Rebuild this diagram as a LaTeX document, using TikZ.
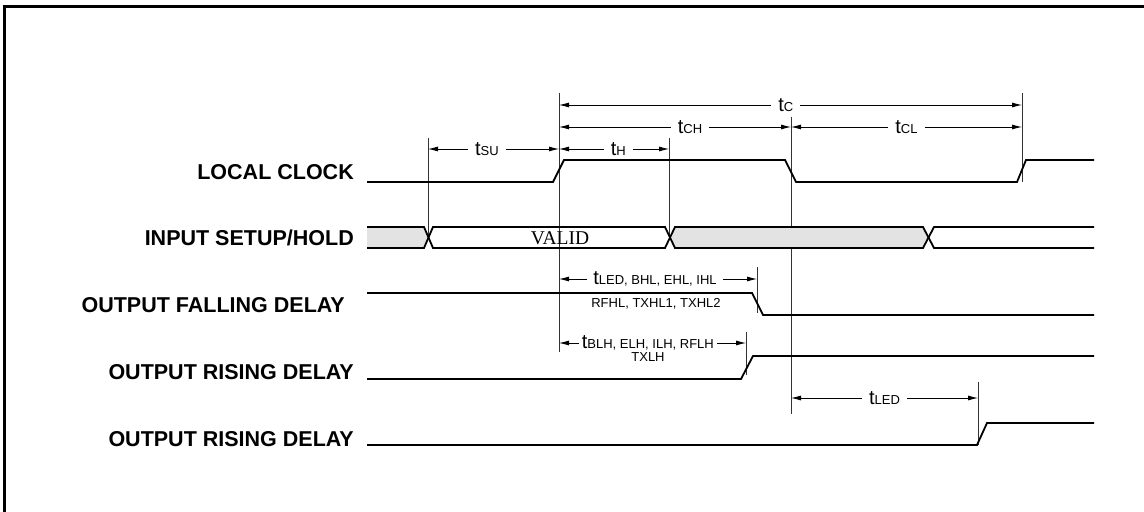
\documentclass[tikz,border=0pt]{standalone}
\usepackage{fontspec}
\setmainfont{Liberation Sans}
\newfontfamily\valfont{Liberation Serif}
\usetikzlibrary{arrows.meta}
\newcommand{\tsub}[2]{{\fontsize{20bp}{20bp}\selectfont #1}{\fontsize{13bp}{14bp}\selectfont #2}}
\begin{document}
\begin{tikzpicture}[x=1bp,y=-1bp,
  sig/.style={line width=1.8bp, line join=miter},
  ref/.style={line width=0.8bp, draw=black!80},
  dim/.style={line width=0.8bp, {Latex[length=10bp,width=5bp]}-{Latex[length=10bp,width=5bp]}},
  lab/.style={fill=white, inner xsep=7bp, inner ysep=0.5bp},
  sname/.style={anchor=base east, font=\fontsize{21.5bp}{24bp}\selectfont\bfseries, inner sep=0pt},
  subtext/.style={font=\fontsize{13bp}{14bp}\selectfont, inner sep=0pt, anchor=base},
]
\useasboundingbox (0,0) rectangle (1144,512);
% frame (cut by the page on the right and bottom)
\draw[line width=3bp] (4,520) -- (4,7) -- (1150,7);

% signal names
\node[sname] (lclk)   at (354,180) {LOCAL CLOCK};
\node[sname] (inp)    at (354,246) {INPUT SETUP/HOLD};
\node[sname] (ofall)  at (345,313) {OUTPUT FALLING DELAY};
\node[sname] (orise)  at (354,380) {OUTPUT RISING DELAY};
\node[sname] (orise2) at (354,446) {OUTPUT RISING DELAY};

% reference lines
\draw[ref] (428,138) -- (428,238);
\draw[ref] (559,93) -- (559,352);
\draw[ref] (669,138) -- (669,238);
\draw[ref] (791,117) -- (791,414);
\draw[ref] (1022,93) -- (1022,182);
\draw[ref] (757,267) -- (757,313);
\draw[ref] (746,332) -- (746,375);
\draw[ref] (978,382) -- (978,445);

% waveforms
\draw[sig] (367,182) -- (553,182) -- (564,160) -- (785,160) -- (796,182) -- (1017,182) -- (1026,160) -- (1094,160);

\fill[black!11] (367,227) -- (424,227) -- (428.5,237.5) -- (424,248) -- (367,248) -- cycle;
\fill[black!11] (670,237.5) -- (675,227) -- (923,227) -- (928.5,237.5) -- (923,248) -- (675,248) -- cycle;
\draw[sig] (367,227) -- (424,227) -- (433,248) -- (665,248) -- (675,227) -- (923,227) -- (934,248) -- (1094,248);
\draw[sig] (367,248) -- (424,248) -- (433,227) -- (665,227) -- (675,248) -- (923,248) -- (934,227) -- (1094,227);
\node[font=\valfont\fontsize{19.5bp}{20bp}\selectfont, inner sep=0pt] (valid) at (560,238) {VALID};

\draw[sig] (367,293) -- (752,293) -- (763,315) -- (1094,315);
\draw[sig] (367,379) -- (741,379) -- (753,356) -- (1094,356);
\draw[sig] (367,445) -- (977,445) -- (987,423) -- (1094,423);

% dimension end points
\coordinate (cL) at (559,105);  \coordinate (cR) at (1022,105);
\coordinate (chL) at (559,127); \coordinate (chR) at (791,127);
\coordinate (clL) at (791,127); \coordinate (clR) at (1022,127);
\coordinate (suL) at (428,149); \coordinate (suR) at (559,149);
\coordinate (hL) at (559,149);  \coordinate (hR) at (669,149);
\coordinate (fL) at (559,279);  \coordinate (fR) at (757,279);
\coordinate (rL) at (559,343);  \coordinate (rR) at (746,343);
\coordinate (eL) at (791,398);  \coordinate (eR) at (978,398);

% dimensions
\draw[dim] (cL) -- node[lab, pos=0.49] (tc) {\tsub{t}{C}} (cR);
\draw[dim] (chL) -- node[lab, pos=0.565] (tch) {\tsub{t}{CH}} (chR);
\draw[dim] (clL) -- node[lab, pos=0.5] (tcl) {\tsub{t}{CL}} (clR);
\draw[dim] (suL) -- node[lab, pos=0.45] (tsu) {\tsub{t}{SU}} (suR);
\draw[dim] (hL) -- node[lab, pos=0.54] (th) {\tsub{t}{H}} (hR);
\draw[dim] (fL) -- node[lab, inner xsep=6bp, pos=0.485] (tled1) {\tsub{t}{LED, BHL, EHL, IHL}} (fR);
\node[subtext] (tled1b) at (656,308) {RFHL, TXHL1, TXHL2};
\draw[dim] (rL) -- node[lab, inner xsep=3bp, inner ysep=0pt, pos=0.475] (tblh) {\tsub{t}{BLH, ELH, ILH, RFLH}} (rR);
\node[subtext] (tblhb) at (648,362) {TXLH};
\draw[dim] (eL) -- node[lab, pos=0.5] (tled2) {\tsub{t}{LED}} (eR);
\end{tikzpicture}
\end{document}
